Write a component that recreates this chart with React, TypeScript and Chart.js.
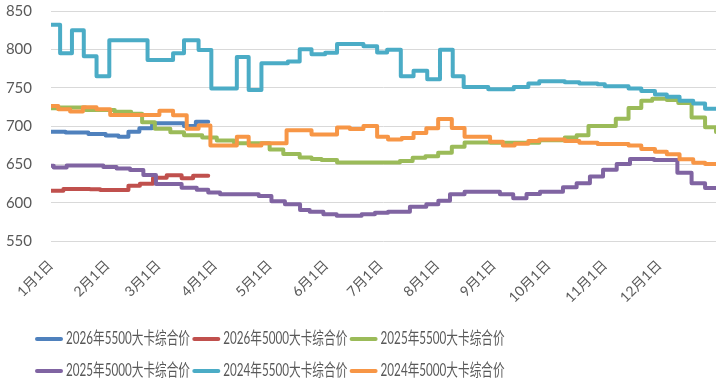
import React, { useEffect, useRef } from "react";
import { Chart, registerables } from "chart.js";

Chart.register(...registerables);

// ---- axis data ----
const monthStarts = [0, 31, 59, 90, 120, 151, 181, 212, 243, 273, 304, 334];
const monthLabels = ["1月1日", "2月1日", "3月1日", "4月1日", "5月1日", "6月1日", "7月1日", "8月1日", "9月1日", "10月1日", "11月1日", "12月1日"];
const yTicks = [550, 600, 650, 700, 750, 800, 850];

// ---- series names & colours ----
const seriesNames = [
  "2026年5500大卡综合价",
  "2026年5000大卡综合价",
  "2025年5500大卡综合价",
  "2025年5000大卡综合价",
  "2024年5500大卡综合价",
  "2024年5000大卡综合价",
];
const seriesColors = ["#4F81BD", "#C0504D", "#9BBB59", "#8064A2", "#4BACC6", "#F79646"];

// ---- series values: [day of year where price changes, price] ----
const p2026_5500: [number, number][] = [
  [0, 692.5], [8, 691.5], [20.5, 689.5], [30, 687.5], [37, 686], [42.5, 692.5], [48.5, 697],
  [55.5, 703.5], [73, 700], [79.5, 705.5], [86.3, 705.5],
];
const p2026_5000: [number, number][] = [
  [0, 615.6], [6.8, 617.8], [21.4, 617.4], [27, 616.5], [42.5, 622.2], [48.8, 624.8], [56, 632.6],
  [63.5, 635.7], [71.7, 631.8], [78, 635], [86.3, 635],
];
const p2025_5500: [number, number][] = [
  [0, 723], [4, 724], [19, 721], [35, 718.5], [44, 716], [50, 705], [57, 696.5], [65.5, 692],
  [73, 688], [83, 685], [91, 681], [100.5, 677.5], [120, 669.5], [127.5, 663.5], [136.5, 659],
  [143, 657], [148.5, 655.5], [157, 652.5], [191.5, 654.5], [198.5, 658.5], [205.5, 660.5],
  [212.5, 665], [220, 673], [227, 678.5], [241, 678], [268, 681.5], [282, 685], [288.5, 688],
  [295, 700], [310, 709.5], [317, 723.5], [324, 733], [330, 735.5], [338, 734], [344.3, 730],
  [351.6, 711], [359, 698.5], [365, 692.3],
];
const p2025_5000: [number, number][] = [
  [0, 648], [1.5, 646], [8.6, 648.6], [28.7, 646.5], [36, 644.5], [43.4, 642.6], [50.7, 636],
  [57.6, 624.2], [71.7, 619.6], [80, 617], [86.3, 613.3], [92.8, 611], [114, 608.7], [121, 602],
  [128.4, 598], [136.7, 590.4], [142, 588], [149.5, 585], [156.8, 583], [170.5, 584.8],
  [177.8, 587], [185, 588.3], [197, 594.8], [206, 598], [212.6, 602.6], [219, 611], [227, 614.3],
  [246.4, 611], [253.7, 605.7], [261, 611.3], [268.4, 614.3], [281, 620], [288.5, 625.3],
  [295.8, 634], [303, 643], [310.5, 650.4], [317.8, 657], [331, 655.5], [343.8, 639],
  [351.6, 625.3], [359, 619], [365, 619],
];
const p2024_5500: [number, number][] = [
  [0, 832], [5, 795], [11.5, 825], [18, 791], [25, 765], [32, 812], [53, 786], [67, 795],
  [73, 812], [81, 799], [88, 749], [102, 790], [108.5, 747], [115.5, 782], [130, 784],
  [136.5, 800], [143, 793.5], [150.5, 795.5], [157, 807], [171.5, 804], [179, 796], [184.5, 799.5],
  [192, 765], [199, 772], [206.5, 761], [213.5, 799.5], [220.5, 765], [226.5, 751], [240, 748],
  [254, 751], [262, 755.5], [268, 758.5], [282, 757], [290, 755.5], [300, 754.5], [304, 752],
  [317, 749], [324, 745.5], [331.5, 741], [338, 738], [345, 733], [352.5, 729.5], [359, 722.5],
  [365, 722.5],
];
const p2024_5000: [number, number][] = [
  [0, 726], [4, 722], [10.5, 719], [17.5, 724.5], [25, 722], [32.5, 714.5], [59.5, 720],
  [67, 714], [74.5, 696.5], [81, 700.5], [87.5, 674.5], [102, 686], [108.5, 674.5],
  [115.5, 677.5], [129.3, 694.5], [143, 689], [157, 698], [164, 696], [171.5, 700], [179, 686],
  [185, 682.5], [192.5, 684.5], [199, 691], [206, 697], [212.5, 709], [220, 697.5], [227, 686],
  [241, 679.5], [248, 674.5], [254.5, 677], [262, 680.5], [268, 682.5], [282, 680.5], [290, 678],
  [300, 676.5], [317, 674.5], [324, 670], [331.5, 666.5], [338, 663], [345, 656.5], [352.5, 652],
  [359, 650.5], [365, 650.5],
];
const seriesData = [p2026_5500, p2026_5000, p2025_5500, p2025_5000, p2024_5500, p2024_5000];

const TEXT_COLOR = "#595959";
const FONT_FAMILY = 'Lato, "Noto Sans CJK SC", sans-serif';

// Excel-style legend: 3 columns, 2 rows, condensed text
const legendPlugin = {
  id: "excelLegend",
  afterDraw(chart: any) {
    const ctx = chart.ctx as CanvasRenderingContext2D;
    const x0 = 35;
    const dx = 157.3;
    const y0 = 339;
    const dy = 32;
    ctx.save();
    chart.data.datasets.forEach((ds: any, i: number) => {
      const col = i % 3;
      const row = Math.floor(i / 3);
      const x = x0 + col * dx;
      const y = y0 + row * dy;
      ctx.strokeStyle = ds.borderColor;
      ctx.lineWidth = 4;
      ctx.lineCap = "round";
      ctx.beginPath();
      ctx.moveTo(x + 2, y);
      ctx.lineTo(x + 26, y);
      ctx.stroke();
      ctx.fillStyle = TEXT_COLOR;
      ctx.font = `17px ${FONT_FAMILY}`;
      ctx.textAlign = "left";
      ctx.textBaseline = "middle";
      ctx.fillText(ds.label, x + 31, y, 124);
    });
    ctx.restore();
  },
};

export default function App() {
  const canvasRef = useRef<HTMLCanvasElement | null>(null);

  useEffect(() => {
    document.body.style.margin = "0";
    const canvas = canvasRef.current;
    if (!canvas) return;
    const chart = new Chart(canvas, {
      type: "line",
      data: {
        datasets: seriesData.map((arr, i) => ({
          label: seriesNames[i],
          data: arr.map(([x, y]) => ({ x, y })),
          borderColor: seriesColors[i],
          backgroundColor: seriesColors[i],
          borderWidth: 4,
          pointRadius: 0,
          pointHoverRadius: 0,
          stepped: true,
          fill: false,
          borderJoinStyle: "round" as const,
          borderCapStyle: "round" as const,
          order: -i,
        })),
      },
      options: {
        responsive: false,
        animation: false,
        layout: { padding: { top: 11, right: 10, bottom: 72, left: 0 } },
        plugins: {
          legend: { display: false },
          tooltip: { enabled: false },
        },
        scales: {
          x: {
            type: "linear",
            min: 0,
            max: 365,
            afterBuildTicks: (scale: any) => {
              scale.ticks = monthStarts.map((v) => ({ value: v }));
            },
            afterFit: (scale: any) => {
              scale.height = 70;
              scale.paddingLeft = 0;
              scale.paddingRight = 0;
            },
            grid: { display: false, drawTicks: false },
            border: { display: false },
            ticks: {
              autoSkip: false,
              minRotation: 45,
              maxRotation: 45,
              padding: 16,
              color: TEXT_COLOR,
              font: { family: FONT_FAMILY, size: 14 },
              callback: (v: any) => {
                const idx = monthStarts.indexOf(Number(v));
                return idx >= 0 ? monthLabels[idx] : "";
              },
            },
          },
          y: {
            min: yTicks[0],
            max: yTicks[yTicks.length - 1],
            afterBuildTicks: (scale: any) => {
              scale.ticks = yTicks.map((v) => ({ value: v }));
            },
            afterFit: (scale: any) => {
              scale.width = 51;
              scale.paddingTop = 0;
              scale.paddingBottom = 0;
            },
            grid: { color: "#D9D9D9", lineWidth: 1, drawTicks: false },
            border: { display: false },
            ticks: {
              padding: 19,
              color: TEXT_COLOR,
              font: { family: FONT_FAMILY, size: 15 },
            },
          },
        },
      },
      plugins: [legendPlugin],
    });
    return () => chart.destroy();
  }, []);

  return (
    <div style={{ width: 726, height: 383, background: "#ffffff" }}>
      <canvas ref={canvasRef} width={726} height={383} style={{ display: "block" }} />
    </div>
  );
}
